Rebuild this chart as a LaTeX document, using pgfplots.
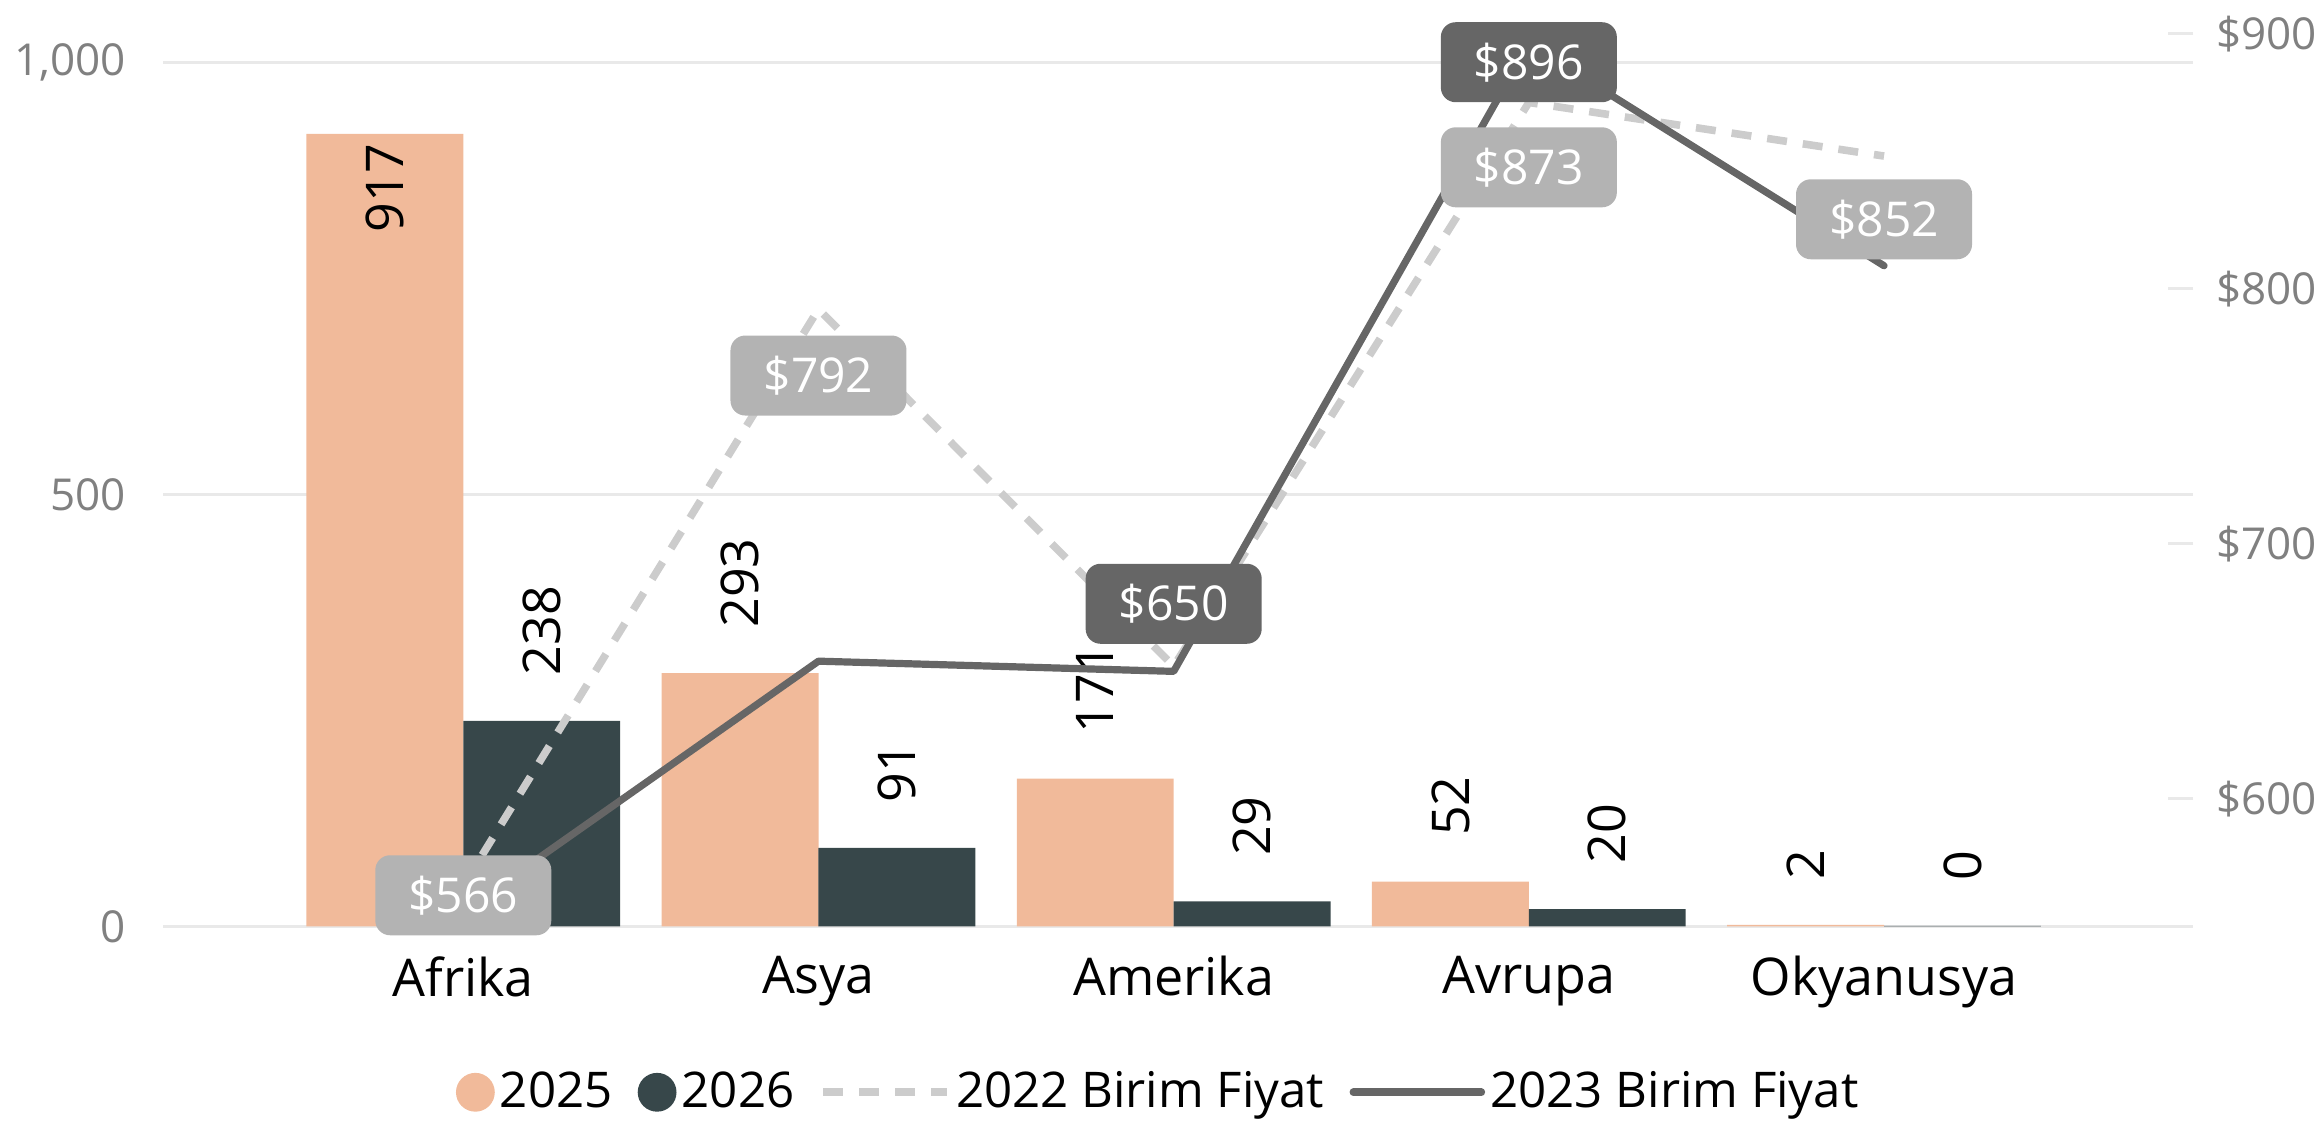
\documentclass[border=0pt]{standalone}
\usepackage{fontspec}
\setmainfont{Open Sans}
\usepackage{pgfplots}
\pgfplotsset{compat=1.18}

\definecolor{peach}{HTML}{F1BA9A}
\definecolor{slate}{HTML}{37474A}
\definecolor{lightln}{HTML}{CCCCCC}
\definecolor{darkln}{HTML}{666666}
\definecolor{lblgray}{HTML}{B3B3B3}
\definecolor{gridc}{HTML}{E9E9E9}
\definecolor{tickc}{HTML}{808080}

\newcommand{\fs}[1]{\fontsize{#1}{1.2\dimexpr#1\relax}\selectfont}

\tikzset{
  barlbl/.style={rotate=90, anchor=west, inner xsep=11.2bp, inner ysep=0pt,
    font=\fs{13bp}, text=black},
  lbl/.style={rounded corners=3.7bp, minimum width=44bp, minimum height=20bp,
    inner sep=0pt, text=white, font=\fs{12bp}},
}
\pgfplotsset{
  base/.style={
    scale only axis, width=507.6bp, height=223.2bp,
    at={(0,0)}, anchor=south west,
    xmin=-0.846, xmax=4.871, clip=false,
    /pgf/number format/assume math mode=true,
  },
}

\begin{document}
\begin{tikzpicture}
\path[use as bounding box] (-40.7bp,-49.2bp) rectangle (539.5bp,231.6bp);

% bars, left axis
\begin{axis}[base,
  ymin=0, ymax=1033,
  ytick={0,500,1000},
  ymajorgrids, grid style={gridc, line width=0.75bp},
  axis line style={draw=none},
  tick style={draw=none},
  xtick={0,1,2,3,4},
  xticklabels={Afrika,Asya,Amerika,Avrupa,Okyanusya},
  xticklabel style={font=\fs{13bp}, text=black, inner sep=0pt, yshift=-7.3bp},
  yticklabel style={font=\fs{11bp}, text=tickc, inner sep=0pt, xshift=-9bp},
]
\addplot[ybar, bar width=0.4417, bar shift=-0.2208, fill=peach, draw=none]
  coordinates {(0,917) (1,293) (2,171) (3,52) (4,2)};
\addplot[ybar, bar width=0.4417, bar shift=0.2208, fill=slate, draw=none]
  coordinates {(0,238) (1,91) (2,29) (3,20) (4,0.6)};
% value labels
\addplot[ybar, bar width=0.4417, bar shift=-0.2208, draw=none, fill=none,
  point meta=explicit symbolic, nodes near coords,
  every node near coord/.append style={xshift=-19.6bp, barlbl}]
  coordinates {(1,293) [293] (2,171) [171] (3,52) [52] (4,2) [2]};
\addplot[ybar, bar width=0.4417, bar shift=-0.2208, draw=none, fill=none,
  point meta=explicit symbolic, nodes near coords,
  every node near coord/.append style={xshift=-19.6bp, barlbl, anchor=east, inner xsep=2.2bp}]
  coordinates {(0,917) [917]};
\addplot[ybar, bar width=0.4417, bar shift=0.2208, draw=none, fill=none,
  point meta=explicit symbolic, nodes near coords,
  every node near coord/.append style={xshift=19.6bp, barlbl}]
  coordinates {(0,238) [238] (1,91) [91] (2,29) [29] (3,20) [20] (4,0.6) [0]};
\end{axis}

% unit prices, right axis
\begin{axis}[base,
  ymin=550, ymax=900,
  axis x line=none,
  axis y line*=right,
  axis line style={draw=none},
  ytick={600,700,800,900},
  yticklabel={\$\pgfmathprintnumber{\tick}},
  ytick style={draw=gridc, line width=0.75bp},
  major tick length=6.3bp, tick align=inside,
  yticklabel style={font=\fs{11bp}, text=tickc, inner sep=0pt, xshift=5.5bp},
  legend columns=-1,
  legend style={at={(0.491,-0.1857)}, anchor=center, draw=none, fill=none,
    font=\fs{12.3bp}, inner sep=0pt,
    nodes={inner sep=1.3bp},
    /tikz/every even column/.append style={column sep=5bp}},
]
\addlegendimage{legend image code/.code={\fill[peach] (4.65bp,0bp) circle (4.65bp);}}
\addlegendentry{2025}
\addlegendimage{legend image code/.code={\fill[slate] (4.65bp,0bp) circle (4.65bp);}}
\addlegendentry{2026}
\addplot[lightln, line width=1.9bp, dash pattern=on 5bp off 4bp,
  legend image code/.code={\draw[lightln, line width=1.9bp, dash pattern=on 5bp off 4bp] (0bp,0bp) -- (31bp,0bp);}]
  coordinates {(0,566) (1,792) (2,652) (3,873) (4,852)};
\addlegendentry{2022 Birim Fiyat}
\addplot[darkln, line width=1.8bp, line join=round, line cap=round,
  legend image code/.code={\draw[darkln, line width=1.9bp, line cap=round] (0bp,0bp) -- (32bp,0bp);}]
  coordinates {(0,556) (1,654) (2,650) (3,896) (4,809)};
\addlegendentry{2023 Birim Fiyat}

\node[lbl, fill=lblgray, yshift=-2.4bp] at (axis cs:0,566) {\$566};
\node[lbl, fill=lblgray, yshift=-16.6bp] at (axis cs:1,792) {\$792};
\node[lbl, fill=darkln, yshift=16.9bp] at (axis cs:2,650) {\$650};
\node[lbl, fill=lblgray, yshift=-16.2bp] at (axis cs:3,873) {\$873};
\node[lbl, fill=darkln, yshift=-4.6bp] at (axis cs:3,896) {\$896};
\node[lbl, fill=lblgray, yshift=-15.8bp] at (axis cs:4,852) {\$852};
\end{axis}
\end{tikzpicture}
\end{document}
